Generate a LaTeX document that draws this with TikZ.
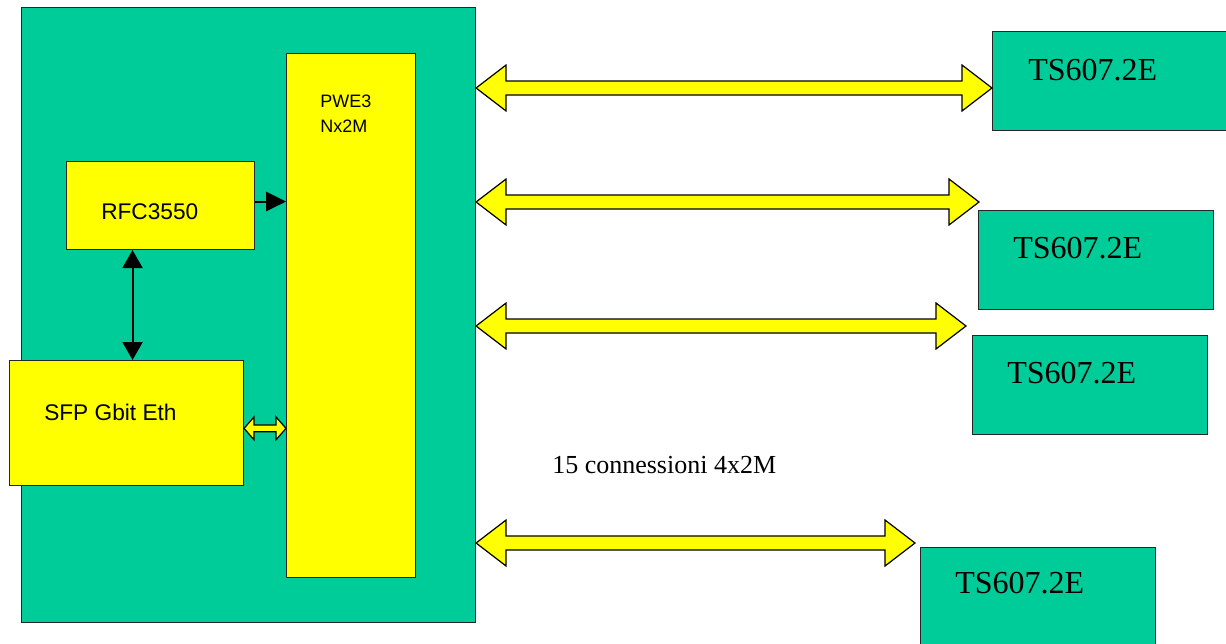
\documentclass[tikz,border=0pt]{standalone}
\usepackage{fontspec}
\setmainfont{Liberation Serif}
\setsansfont{Liberation Sans}
\usetikzlibrary{arrows.meta, calc, positioning}
\definecolor{cardgreen}{RGB}{0,204,153}
\definecolor{blockyellow}{RGB}{255,255,0}
\tikzset{
    box/.style={draw=black!85, line width=0.8pt, anchor=north west, inner sep=0pt},
    gbox/.style={box, fill=cardgreen},
    ybox/.style={box, fill=blockyellow},
    tsbox/.style={gbox, minimum width=176.25pt, minimum height=74.25pt},
    tslabel/.style={anchor=west, inner sep=0pt, font=\fontsize{24}{28}\selectfont},
    blabel/.style={anchor=west, inner sep=0pt, font=\sffamily\fontsize{17}{20}\selectfont},
    fat/.style args={#1/#2/#3}{draw=black, line width=0.9pt, fill=blockyellow, line join=miter,
        to path={let \p1=(\tikztostart), \p2=(\tikztotarget) in
            -- (\x1+#1,\y1+#2) -- (\x1+#1,\y1+#3) -- (\x2-#1,\y1+#3) -- (\x2-#1,\y1+#2)
            -- (\x2,\y1) -- (\x2-#1,\y1-#2) -- (\x2-#1,\y1-#3) -- (\x1+#1,\y1-#3)
            -- (\x1+#1,\y1-#2) -- cycle}},
    fat/.default={22.5pt/17.25pt/5.25pt},
    link/.style={line width=1.5pt, -{Triangle[length=15pt,width=14.5pt]}},
    linkboth/.style={line width=1.5pt, {Triangle[length=13.5pt,width=15pt]}-{Triangle[length=13.5pt,width=15pt]}}
}
\begin{document}
\begin{tikzpicture}[x=0.75pt, y=-0.75pt]
    \useasboundingbox (0,0) rectangle (1226,643);
    % the card
    \node[gbox, minimum width=340.5pt, minimum height=461.25pt] (card) at (21,7) {};
    \node[ybox, minimum width=96.75pt, minimum height=393pt] (pwe) at (286,53) {};
    \node[ybox, minimum width=141pt, minimum height=66pt] (rfc) at (66,161) {};
    \node[ybox, minimum width=175.5pt, minimum height=93.75pt] (sfp) at (9,360) {};
    \node[anchor=north west, inner sep=0pt, align=left, font=\sffamily\fontsize{13.5}{18.75}\selectfont] (pwetxt) at (320,95) {PWE3\\Nx2M};
    \node[blabel] (rfctxt) at (101,212) {RFC3550};
    \node[blabel] (sfptxt) at (44,412) {SFP Gbit Eth};
    % links inside
    \coordinate (r1) at ([yshift=3pt]rfc.east);
    \draw[link] (r1) -- (r1 -| pwe.west);
    \coordinate (r2) at ([xshift=-21pt]rfc.south);
    \draw[linkboth] (r2) -- (r2 |- sfp.north);
    \coordinate (s1) at ([yshift=-4pt]sfp.east);
    \path[fat=7.5pt/8.6pt/2.6pt] (s1) to (s1 -| pwe.west);
    % remote units
    \node[tsbox, minimum width=177pt] (ts1) at (992,31) {};
    \node[tsbox] (ts2) at (978,210) {};
    \node[tsbox] (ts3) at (972,335) {};
    \node[tsbox] (ts4) at (920,547) {};
    \node[tslabel] (ts1txt) at ([shift={(36,39)}]ts1.north west) {TS607.2E};
    \node[tslabel] (ts2txt) at ([shift={(35,38)}]ts2.north west) {TS607.2E};
    \node[tslabel] (ts3txt) at ([shift={(35,38)}]ts3.north west) {TS607.2E};
    \node[tslabel] (ts4txt) at ([shift={(35,36)}]ts4.north west) {TS607.2E};
    % connections
    \coordinate (e2) at (979,202);
    \coordinate (e3) at (966,326);
    \coordinate (e4) at (915,543);
    \path[fat] (card.east |- 0,88) to (ts1.west |- 0,88);
    \path[fat] (card.east |- e2) to (e2);
    \path[fat] (card.east |- e3) to (e3);
    \path[fat] (card.east |- e4) to (e4);
    \node[anchor=west, inner sep=0pt, font=\fontsize{19.5}{23}\selectfont] (conn) at (552,465) {15 connessioni 4x2M};
\end{tikzpicture}
\end{document}
